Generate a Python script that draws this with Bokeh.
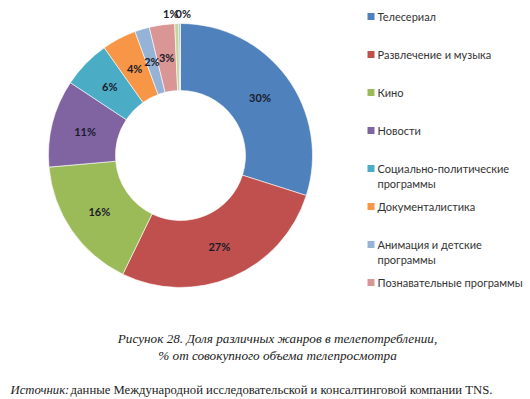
import math
from bokeh.plotting import figure
from bokeh.models import Range1d, ColumnDataSource
from bokeh.core.properties import value
from bokeh.embed import file_html
from bokeh.resources import INLINE

# ---------------- data ----------------
categories = ["Телесериал", "Развлечение и музыка", "Кино", "Новости",
              "Социально-политические\nпрограммы", "Документалистика",
              "Анимация и детские\nпрограммы", "Познавательные программы",
              "Прочее 1", "Прочее 2"]
shares = [29.9, 27.3, 16.4, 10.7, 5.9, 4.2, 1.8, 3.1, 0.5, 0.2]
share_labels = ["30%", "27%", "16%", "11%", "6%", "4%", "2%", "3%", "1%", "0%"]
colors = ["#4F81BD", "#C0504D", "#9BBB59", "#8064A2", "#4BACC6", "#F79646",
          "#95B3D7", "#D99694", "#C3D69B", "#A9B4DA"]
legend_count = 8
caption_lines = ["Рисунок 28. Доля различных жанров в телепотреблении,",
                 "% от совокупного объема телепросмотра"]
source_head = "Источник:"
source_body = "данные Международной исследовательской и консалтинговой компании TNS."

# ---------------- layout (screen pixels) ----------------
W, H = 530, 399
def Y(sy):
    return H - sy

cx, cy = 180, 155
r_out, r_in = 132, 65

p = figure(width=W, height=H, output_backend="svg",
           toolbar_location=None, x_axis_type=None, y_axis_type=None,
           x_range=Range1d(0, W), y_range=Range1d(0, H),
           min_border=0, outline_line_color=None)
p.grid.visible = False
p.background_fill_color = "white"
p.border_fill_color = "white"

total = sum(shares)
starts, ends, mids = [], [], []
cum = 0.0
for v in shares:
    a0 = math.pi / 2 - 2 * math.pi * cum / total
    cum += v
    a1 = math.pi / 2 - 2 * math.pi * cum / total
    starts.append(a0)
    ends.append(a1)
    mids.append((a0 + a1) / 2)

src = ColumnDataSource(dict(start=starts, end=ends, color=colors))
p.annular_wedge(x=cx, y=Y(cy), inner_radius=r_in, outer_radius=r_out,
                start_angle="start", end_angle="end", direction="clock",
                fill_color="color", line_color="white", line_width=0.6,
                source=src)

# slice labels (tiny slices get their labels outside the ring)
lx, ly, la = [], [], []
r_mid = (r_in + r_out) / 2
n_small = 0
for i, (m, v) in enumerate(zip(mids, shares)):
    if v < 1:
        r = r_out + 10
        align = "right" if n_small == 0 else "left"
        x = cx + r * math.cos(m) + (2 if align == "right" else -4)
        n_small += 1
    else:
        r = r_mid
        align = "center"
        x = cx + r * math.cos(m)
    lx.append(x)
    ly.append(Y(cy) + r * math.sin(m))
    la.append(align)
p.text(x=lx, y=ly, text=share_labels, text_align=la, text_baseline="middle",
       text_font=value("Lato"), text_font_style="bold", text_font_size="11px",
       text_color="#1a1a2a")

# legend
leg_x_sq, leg_x_txt, leg_y0, leg_step = 370.5, 377, 16, 38
sq_x, sq_y, sq_c = [], [], []
tx, ty, tt = [], [], []
for i in range(legend_count):
    sy = leg_y0 + i * leg_step
    sq_x.append(leg_x_sq)
    sq_y.append(Y(sy))
    sq_c.append(colors[i])
    for j, line in enumerate(categories[i].split("\n")):
        tx.append(leg_x_txt)
        ty.append(Y(sy + 15 * j))
        tt.append(line)
p.rect(x=sq_x, y=sq_y, width=7, height=7, fill_color=sq_c, line_color=None)
p.text(x=tx, y=ty, text=tt, text_align="left", text_baseline="middle",
       text_font=value("Lato"), text_font_size="11px", text_color="#333333")

# caption
p.text(x=[277, 277], y=[Y(338), Y(355)], text=caption_lines, text_align="center",
       text_baseline="middle", text_font=value("Liberation Serif"),
       text_font_style="italic", text_font_size="13.2px", text_color="#222222")
p.text(x=[10], y=[Y(389)], text=[source_head], text_align="left",
       text_baseline="middle", text_font=value("Liberation Serif"),
       text_font_style="italic", text_font_size="12.7px", text_color="#222222")
p.text(x=[70], y=[Y(389)], text=[source_body], text_align="left",
       text_baseline="middle", text_font=value("Liberation Serif"),
       text_font_size="12.7px", text_color="#222222")

open("out.html", "w").write(file_html(p, INLINE))
